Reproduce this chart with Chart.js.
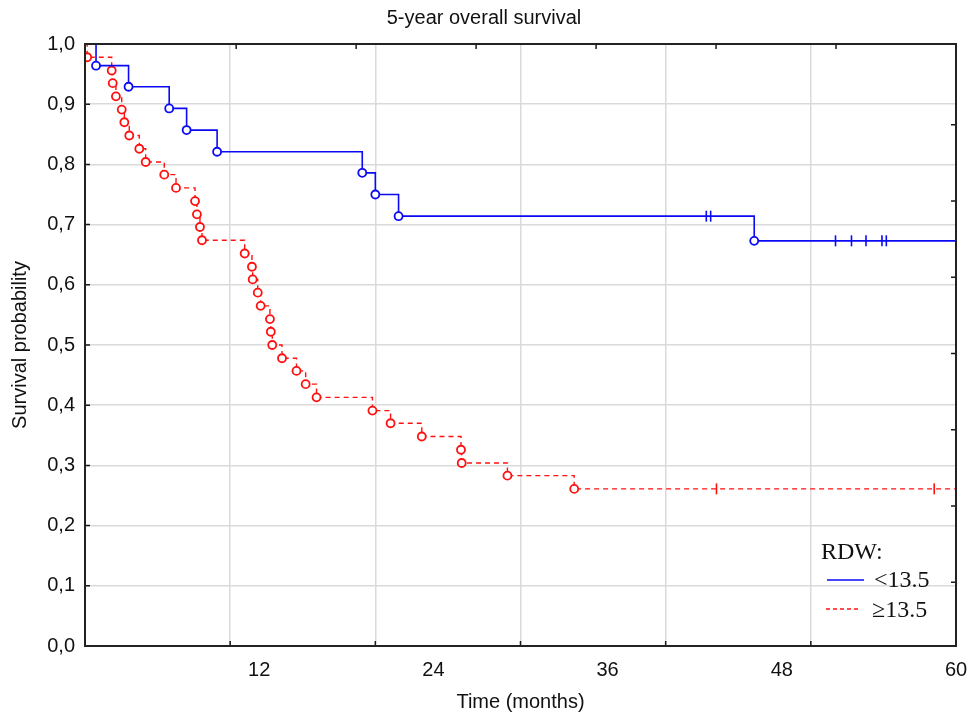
<!DOCTYPE html>
<html>
<head>
<meta charset="utf-8">
<script src="https://cdn.jsdelivr.net/npm/chart.js@4.4.1/dist/chart.umd.min.js"></script>
<style>
html, body { margin: 0; padding: 0; background: #fff; }
#wrap { width: 968px; height: 714px; }
</style>
</head>
<body>
<div id="wrap"><canvas id="km"></canvas></div>
<script>
// RDW < 13.5 : event times (months) and survival after each event
const lowTimes = [0, 0.76, 3.0, 5.8, 7.0, 9.1, 19.1, 20.0, 21.6, 46.1];
const lowSurv = [1.0, 0.964, 0.929, 0.893, 0.857, 0.821, 0.786, 0.750, 0.714, 0.673];
const lowCensTimes = [42.8, 43.1, 51.7, 52.8, 53.8, 54.9, 55.2];
const lowCensSurv = [0.714, 0.714, 0.673, 0.673, 0.673, 0.673, 0.673];

// RDW >= 13.5
const highTimes = [0, 0.15, 1.84, 1.91, 2.13, 2.53, 2.71, 3.05, 3.74, 4.18, 5.46,
	6.27, 7.58, 7.71, 7.92, 8.06, 11.0, 11.5, 11.55, 11.9, 12.1, 12.74, 12.8, 12.9,
	13.57, 14.57, 15.2, 15.95, 19.8, 21.05, 23.2, 25.9, 25.95, 29.1, 33.7];
const highSurv = [1.0, 0.978, 0.956, 0.935, 0.913, 0.891, 0.870, 0.848, 0.826, 0.804, 0.783,
	0.761, 0.739, 0.717, 0.696, 0.674, 0.652, 0.630, 0.609, 0.587, 0.565, 0.543, 0.522, 0.500,
	0.478, 0.457, 0.435, 0.413, 0.391, 0.370, 0.348, 0.326, 0.304, 0.283, 0.261];
const highCensTimes = [43.5, 58.5];
const highCensSurv = [0.261, 0.261];

const followUp = 60;
const xLabelStep = 12;
const xGridStep = 10;
const yStep = 0.1;

const BLUE = '#0a0af5';
const RED = '#ff1010';
const GRID = '#dadada';

function curve(times, surv) {
	const pts = times.map((t, i) => ({ x: t, y: surv[i] }));
	pts.push({ x: followUp, y: surv[surv.length - 1] });
	return pts;
}
function cens(times, surv) {
	return times.map((t, i) => ({ x: t, y: surv[i] }));
}
// no circle at the start point and at end of follow-up
function eventRadius(ctx) {
	const n = ctx.dataset.data.length;
	return (ctx.dataIndex === 0 || ctx.dataIndex === n - 1) ? 0 : 4;
}

// inward ticks, frame and the in-plot legend
const frameAndLegend = {
	id: 'frameAndLegend',
	afterDraw(chart) {
		const { ctx, chartArea: a, scales } = chart;
		ctx.save();
		ctx.strokeStyle = '#1a1a1a';
		ctx.lineWidth = 1.5;
		ctx.beginPath();
		scales.y.ticks.forEach(t => {
			if (t.value > 0.001 && t.value < 0.999) {
				const py = scales.y.getPixelForValue(t.value);
				ctx.moveTo(a.left, py); ctx.lineTo(a.left + 5, py);
			}
		});
		scales.x.ticks.forEach(t => {
			if (t.value % xGridStep === 0 && t.value > 0 && t.value < followUp) {
				const px = scales.x.getPixelForValue(t.value);
				ctx.moveTo(px, a.bottom); ctx.lineTo(px, a.bottom - 5);
			}
		});
		scales.xTop.ticks.forEach(t => {
			if (t.value > 0) {
				const px = scales.xTop.getPixelForValue(t.value);
				ctx.moveTo(px, a.top); ctx.lineTo(px, a.top + 5);
			}
		});
		scales.yRight.ticks.forEach(t => {
			const py = scales.yRight.getPixelForValue(t.value);
			if (py > a.top + 2 && py < a.bottom - 2) {
				ctx.moveTo(a.right, py); ctx.lineTo(a.right - 5, py);
			}
		});
		ctx.stroke();

		ctx.lineWidth = 2;
		ctx.strokeStyle = '#222';
		ctx.strokeRect(a.left, a.top, a.right - a.left, a.bottom - a.top);

		// legend
		ctx.fillStyle = '#111';
		ctx.font = '24px "Liberation Serif"';
		ctx.textBaseline = 'alphabetic';
		ctx.fillText('RDW:', a.right - 135, a.bottom - 87);
		ctx.fillText('<13.5', a.right - 82, a.bottom - 59);
		ctx.fillText('\u226513.5', a.right - 84, a.bottom - 29);

		ctx.lineWidth = 1.5;
		ctx.strokeStyle = BLUE;
		ctx.beginPath();
		ctx.moveTo(a.right - 129, a.bottom - 66); ctx.lineTo(a.right - 92, a.bottom - 66);
		ctx.stroke();
		ctx.strokeStyle = RED;
		ctx.setLineDash([4, 3]);
		ctx.beginPath();
		ctx.moveTo(a.right - 130, a.bottom - 37); ctx.lineTo(a.right - 96, a.bottom - 37);
		ctx.stroke();
		ctx.restore();
	}
};

const font = { family: '"Liberation Sans", Arial, sans-serif', size: 20, weight: 'normal' };

new Chart(document.getElementById('km'), {
	type: 'line',
	data: {
		datasets: [
			{
				label: '<13.5',
				data: curve(lowTimes, lowSurv),
				stepped: true,
				borderColor: BLUE,
				borderWidth: 1.6,
				pointRadius: eventRadius,
				pointBorderColor: BLUE,
				pointBackgroundColor: '#fff',
				pointBorderWidth: 1.8,
			},
			{
				label: '>=13.5',
				data: curve(highTimes, highSurv),
				stepped: true,
				borderColor: RED,
				borderWidth: 1.4,
				borderDash: [5, 4],
				pointRadius: eventRadius,
				pointBorderColor: RED,
				pointBackgroundColor: '#fff',
				pointBorderWidth: 1.8,
			},
			{
				type: 'scatter',
				label: 'censored <13.5',
				data: cens(lowCensTimes, lowCensSurv),
				showLine: false,
				pointStyle: 'line',
				rotation: 90,
				pointRadius: 5.5,
				borderColor: BLUE,
				pointBorderWidth: 1.6,
			},
			{
				type: 'scatter',
				label: 'censored >=13.5',
				data: cens(highCensTimes, highCensSurv),
				showLine: false,
				pointStyle: 'line',
				rotation: 90,
				pointRadius: 5.5,
				borderColor: RED,
				pointBorderWidth: 1.6,
			},
		]
	},
	options: {
		responsive: true,
		maintainAspectRatio: false,
		animation: false,
		layout: { padding: 0 },
		plugins: {
			legend: { display: false },
			tooltip: { enabled: false },
			title: {
				display: true,
				text: '5-year overall survival',
				color: '#111',
				font: font,
				padding: { top: 6, bottom: 4 },
			},
		},
		scales: {
			x: {
				type: 'linear',
				position: 'bottom',
				min: 0,
				max: followUp,
				afterFit: s => { s.height = 68; s.paddingLeft = 0; s.paddingRight = 0; },
				border: { display: false },
				grid: {
					drawTicks: false,
					lineWidth: 1.5,
					color: c => (c.tick && c.tick.value % xGridStep === 0 && c.tick.value > 0 && c.tick.value < followUp) ? GRID : 'rgba(0,0,0,0)',
				},
				ticks: {
					stepSize: 2,
					autoSkip: false,
					maxRotation: 0,
					padding: 12,
					color: '#111',
					font: font,
					callback: v => (v > 0 && v % xLabelStep === 0) ? String(v) : '',
				},
				title: {
					display: true,
					text: 'Time (months)',
					color: '#111',
					font: font,
					padding: { top: 0, bottom: 0 },
				},
			},
			xTop: {
				type: 'linear',
				position: 'top',
				reverse: true,
				min: 0,
				max: 7.26,
				afterFit: s => { s.height = 10; s.paddingLeft = 0; s.paddingRight = 0; },
				border: { display: false },
				grid: { display: false, drawTicks: false },
				ticks: { display: false, stepSize: 1 },
			},
			y: {
				min: 0,
				max: 1,
				afterFit: s => { s.width = 85; },
				border: { display: false },
				grid: {
					drawTicks: false,
					lineWidth: 1.5,
					color: c => (c.tick && c.tick.value > 0.001 && c.tick.value < 0.999) ? GRID : 'rgba(0,0,0,0)',
				},
				ticks: {
					stepSize: yStep,
					padding: 10,
					color: '#111',
					font: font,
					callback: v => v.toFixed(1).replace('.', ','),
				},
				title: {
					display: true,
					text: 'Survival probability',
					color: '#111',
					font: font,
					padding: { top: 8, bottom: 0 },
				},
			},
			yRight: {
				type: 'linear',
				position: 'right',
				min: -0.837,
				max: 7.06,
				afterFit: s => { s.width = 12; },
				border: { display: false },
				grid: { display: false, drawTicks: false },
				ticks: { display: false, stepSize: 1 },
			},
		}
	},
	plugins: [frameAndLegend]
});
</script>
</body>
</html>
